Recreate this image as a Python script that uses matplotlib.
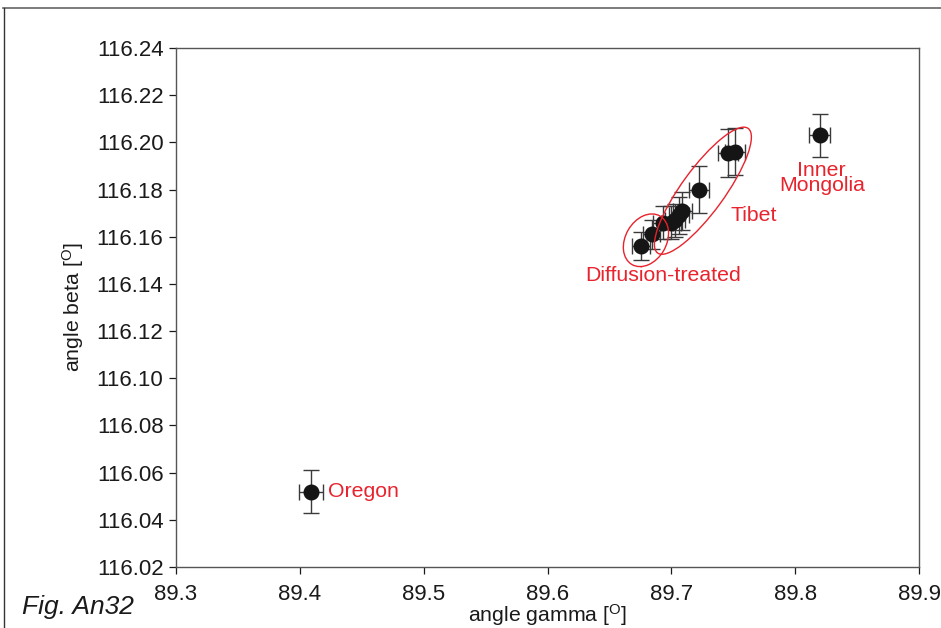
import matplotlib
matplotlib.use("Agg")
import matplotlib.pyplot as plt
from matplotlib.patches import Ellipse
from matplotlib.transforms import ScaledTranslation
from matplotlib.lines import Line2D

plt.rcParams['font.family'] = ['Liberation Sans', 'DejaVu Sans']
plt.rcParams['mathtext.fontset'] = 'custom'
plt.rcParams['mathtext.rm'] = 'Liberation Sans'
plt.rcParams['mathtext.it'] = 'Liberation Sans:italic'

# data
gamma = [89.409, 89.820, 89.6755, 89.684, 89.6935, 89.700, 89.703, 89.7065, 89.709, 89.7225, 89.746, 89.7515]
beta = [116.052, 116.203, 116.156, 116.161, 116.166, 116.166, 116.167, 116.169, 116.171, 116.180, 116.1955, 116.196]
gamma_err = [0.010, 0.0085, 0.007, 0.007, 0.008, 0.008, 0.008, 0.008, 0.008, 0.008, 0.008, 0.008]
beta_err = [0.009, 0.009, 0.006, 0.006, 0.007, 0.007, 0.007, 0.008, 0.008, 0.010, 0.010, 0.010]

labels = ["Oregon", "Inner\nMongolia", "Tibet", "Diffusion-treated"]
label_x = [89.4225, 89.8215, 89.7665, 89.6935]
label_y = [116.052, 116.1848, 116.1692, 116.1434]

xticks = [89.3, 89.4, 89.5, 89.6, 89.7, 89.8, 89.9]
yticks = [116.02, 116.04, 116.06, 116.08, 116.10, 116.12, 116.14, 116.16, 116.18, 116.20, 116.22, 116.24]

RED = '#e8232d'
TXT = '#1a1a1a'
fig = plt.figure(figsize=(9.41, 6.28), dpi=100)
ax = fig.add_axes([176/941, 1-567/628, (919-176)/941, (567-48)/628])

ax.errorbar(gamma, beta, xerr=gamma_err, yerr=beta_err, fmt='o', color='#151515',
            markersize=10.5, ecolor='#3a3a3a', elinewidth=1.0, capsize=6, capthick=1.0, zorder=3)

ax.set_xlim(89.3, 89.9)
ax.set_ylim(116.02, 116.24)
ax.set_xticks(xticks)
ax.set_xticklabels([f"{t:.1f}" for t in xticks])
ax.set_yticks(yticks)
ax.set_yticklabels([f"{t:.2f}" for t in yticks])
ax.tick_params(direction='out', length=5, width=0.9, labelsize=16, colors=TXT)
ax.tick_params(axis='x', pad=7)
ax.tick_params(axis='y', pad=4)
for s in ax.spines.values():
    s.set_color('#555555')
    s.set_linewidth(1.0)

ax.set_xlabel('angle gamma [$^\\mathrm{O}$]', fontsize=15.3, color=TXT, labelpad=-1.5)
ax.set_ylabel('angle beta [$^\\mathrm{O}$]', fontsize=15.3, color=TXT, labelpad=8)

# labels
ax.text(label_x[0], label_y[0], labels[0], color=RED, fontsize=15.3, ha='left', va='center')
ax.text(label_x[1], label_y[1], labels[1], color=RED, fontsize=15.3, ha='center', va='center', linespacing=0.75)
ax.text(label_x[2], label_y[2], labels[2], color=RED, fontsize=15.3, ha='center', va='center')
ax.text(label_x[3], label_y[3], labels[3], color=RED, fontsize=15.3, ha='center', va='center')

# ellipses (sizes in inches, centered at data points)
def add_ellipse(cx, cy, w, h, ang):
    tr = fig.dpi_scale_trans + ScaledTranslation(cx, cy, ax.transData)
    e = Ellipse((0, 0), w, h, angle=ang, transform=tr, fill=False, edgecolor=RED, lw=1.0, zorder=4)
    ax.add_patch(e)

add_ellipse(89.6795, 116.1585, 0.56, 0.41, 60)
add_ellipse(89.7255, 116.1795, 1.54, 0.43, 54)

# figure frame lines
fig.add_artist(Line2D([3/941, 1], [1-8/628, 1-8/628], transform=fig.transFigure, color='#666666', lw=1.2))
fig.add_artist(Line2D([3.5/941, 3.5/941], [0, 1-8/628], transform=fig.transFigure, color='#333333', lw=1.0))

fig.text(22/941, 1-607/628, 'Fig. An32', fontsize=19, style='italic', color=TXT, ha='left', va='center')

fig.savefig('out.png', dpi=100)
